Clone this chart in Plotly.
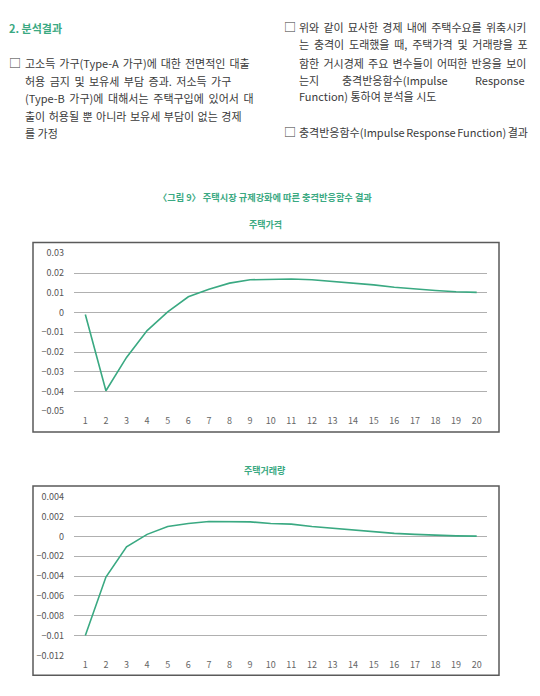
import plotly.graph_objects as go

W, H = 540, 696

periods = list(range(1, 21))
price_irf = [-0.001, -0.0396, -0.0227, -0.0091, 0.0003, 0.0080, 0.0118, 0.0149, 0.0166, 0.0169,
             0.0170, 0.0166, 0.0158, 0.0148, 0.0140, 0.0128, 0.0119, 0.0112, 0.0105, 0.0102]
volume_irf = [-0.0100, -0.0041, -0.00106, 0.0002, 0.0010, 0.0013, 0.0015, 0.0015, 0.00146, 0.0013,
              0.00123, 0.0010, 0.00083, 0.00063, 0.00043, 0.0003, 0.0002, 0.0001, 0.00005, 0.00002]

price_ticks = [0.03, 0.02, 0.01, 0, -0.01, -0.02, -0.03, -0.04, -0.05]
price_ticktext = ["0.03", "0.02", "0.01", "0", "−0.01", "−0.02", "−0.03", "−0.04", "−0.05"]
volume_ticks = [0.004, 0.002, 0, -0.002, -0.004, -0.006, -0.008, -0.01, -0.012]
volume_ticktext = ["0.004", "0.002", "0", "−0.002", "−0.004", "−0.006", "−0.008", "−0.01", "−0.012"]

header = "2. 분석결과"
left_lines = [
    "고소득 가구(Type-A 가구)에 대한 전면적인 대출",
    "허용 금지 및 보유세 부담 증과. 저소득 가구",
    "(Type-B 가구)에 대해서는 주택구입에 있어서 대",
    "출이 허용될 뿐 아니라 보유세 부담이 없는 경제",
    "를 가정",
]
right_lines = [
    "위와 같이 묘사한 경제 내에 주택수요를 위축시키",
    "는 충격이 도래했을 때, 주택가격 및 거래량을 포",
    "함한 거시경제 주요 변수들이 어떠한 반응을 보이",
    None,
    "Function) 통하여 분석을 시도",
]
right_item2 = "충격반응함수(Impulse Response Function) 결과"
fig_title = "〈그림 9〉 주택시장 규제강화에 따른 충격반응함수 결과"
sub1 = "주택가격"
sub2 = "주택거래량"

TEAL = "#3aa982"
TEXT = "#3a3a3a"
KR = "Noto Sans CJK KR"

def px(x):
    return x / W

def py(y):
    return 1 - y / H

fig = go.Figure()
fig.add_trace(go.Scatter(x=periods, y=price_irf, mode="lines",
                         line=dict(color=TEAL, width=1.6), xaxis="x", yaxis="y", showlegend=False))
fig.add_trace(go.Scatter(x=periods, y=volume_irf, mode="lines",
                         line=dict(color=TEAL, width=1.6), xaxis="x2", yaxis="y2", showlegend=False))

xcommon = dict(range=[0.45, 20.5], tickvals=periods, showgrid=False, zeroline=False,
               showline=False, ticks="", tickfont=dict(size=9, color="#666", family=KR),
               ticklabelstandoff=3, fixedrange=True)
ycommon = dict(showgrid=True, gridcolor="#b0b0b0", gridwidth=1, zeroline=False, showline=False,
               ticks="", tickfont=dict(size=9, color="#555", family=KR), ticklabelstandoff=9)

fig.update_layout(
    width=W, height=H, margin=dict(l=0, r=0, t=0, b=0),
    paper_bgcolor="white", plot_bgcolor="white",
    xaxis=dict(domain=[px(74), px(487)], anchor="y", **xcommon),
    yaxis=dict(domain=[py(412), py(251)], range=[-0.05, 0.03], tickvals=price_ticks,
               ticktext=price_ticktext, anchor="x", **ycommon),
    xaxis2=dict(domain=[px(74), px(487)], anchor="y2", **xcommon),
    yaxis2=dict(domain=[py(660.7), py(499)], range=[-0.012, 0.004], tickvals=volume_ticks,
                ticktext=volume_ticktext, anchor="x2", **ycommon),
)

shapes = []
for (y0, y1) in [(240, 433), (488, 681)]:
    shapes.append(dict(type="rect", xref="paper", yref="paper", x0=px(33), x1=px(499),
                       y0=py(y1), y1=py(y0), line=dict(color="#5a5a5a", width=1.5)))
fig.update_layout(shapes=shapes)

ann = []
def add(text, x, y, size=11, color=TEXT, anchor="left", bold=False, ws=None):
    if ws is not None:
        text = '<span style="word-spacing:%.1fpx">%s</span>' % (ws, text)
    ann.append(dict(text=("<b>%s</b>" % text) if bold else text, x=px(x), y=py(y),
                    xref="paper", yref="paper", xanchor=anchor, yanchor="middle",
                    showarrow=False, font=dict(size=size, color=color, family=KR)))

DY = -5
add(header, 7, 26 + DY, size=11, color=TEAL, bold=True)

add("□", 7, 62 + DY, size=12)
left_y = [62, 80, 98, 116, 133]
left_ws = [1.5, 2.0, 2.2, 1.0, None]
for i, t in enumerate(left_lines):
    add(t, 23, left_y[i] + DY, ws=left_ws[i])

add("□", 282, 25 + DY, size=12)
ry = [25, 43, 62, 79, 96]
right_ws = [1.7, 2.3, 1.7, None, None]
for i, t in enumerate(right_lines):
    if t is None:
        add("는지", 297, ry[i] + DY)
        add("충격반응함수(Impulse", 395, ry[i] + DY, anchor="center")
        add("Response", 527, ry[i] + DY, anchor="right")
    else:
        add(t, 297, ry[i] + DY, ws=right_ws[i])
add("□", 282, 132 + DY, size=12)
add(right_item2, 297, 132 + DY, ws=-1.0)

add(fig_title, 265, 194, size=9.2, color=TEAL, anchor="center", bold=True)
add(sub1, 265, 222, size=9, color=TEAL, anchor="center", bold=True)
add(sub2, 265, 472, size=9, color=TEAL, anchor="center", bold=True)

fig.update_layout(annotations=ann)
fig.write_html("out.html", config={"displayModeBar": False},
               post_script="document.body.style.margin='0';")
